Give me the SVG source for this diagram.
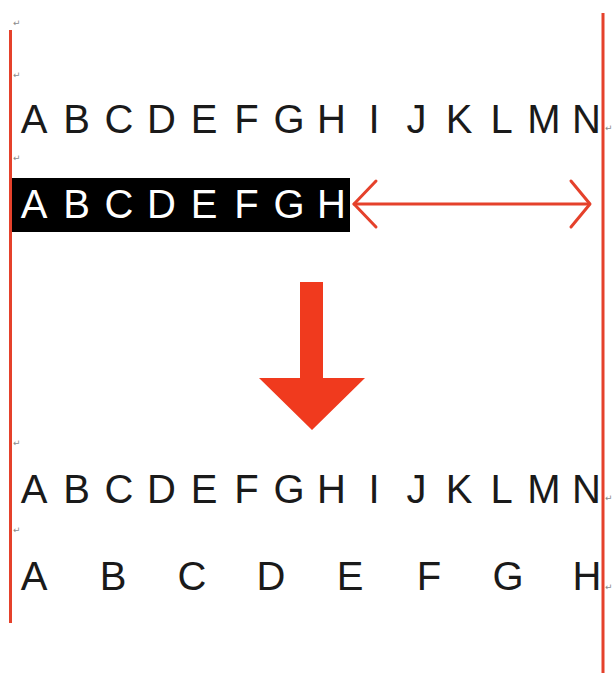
<svg xmlns="http://www.w3.org/2000/svg" width="616" height="673" viewBox="0 0 616 673">
<style>
.t{font-family:"Liberation Sans",Arial,sans-serif;font-size:40px;fill:#1a1a1a;text-anchor:middle}
.w{fill:#ffffff}
.pm{font-family:"DejaVu Sans",sans-serif;font-size:9px;fill:#8a8a8a}
.rl{stroke:#e5412b;stroke-width:3;fill:none}
</style>
<rect width="616" height="673" fill="#ffffff"/>
<g id="margins">
<line class="rl" x1="10.5" y1="30" x2="10.5" y2="623"/>
<line class="rl" x1="603" y1="13" x2="603" y2="673"/>
</g>
<g id="marks">
<text class="pm" x="13" y="26">↵</text>
<text class="pm" x="13" y="78">↵</text>
<text class="pm" x="13" y="161">↵</text>
<text class="pm" x="13" y="446">↵</text>
<text class="pm" x="13" y="533">↵</text>
<text class="pm" x="605" y="131">↵</text>
<text class="pm" x="605" y="501">↵</text>
<text class="pm" x="605" y="590">↵</text>
</g>
<g id="row1">
<text class="t" x="34 76.5 119 161.5 204 246.5 289 331.5 374 416.5 459 501.5 544 586.5" y="133">ABCDEFGHIJKLMN</text>
</g>
<g id="row2">
<rect x="12" y="178" width="338" height="54" fill="#000000"/>
<text class="t w" x="34 76.5 119 161.5 204 246.5 289 331.5" y="218">ABCDEFGH</text>
</g>
<g id="connectors">
<g id="double-arrow" class="rl" stroke-linecap="round" stroke-linejoin="round">
<line x1="354" y1="204" x2="589" y2="204"/>
<polyline points="376,181 354,204 376,227"/>
<polyline points="571,181 590,204 571,227"/>
</g>
<polygon id="down-arrow" points="300,282 323,282 323,378 365,378 312,430 259,378 300,378" fill="#f03a1e"/>
</g>
<g id="row3">
<text class="t" x="34 76.5 119 161.5 204 246.5 289 331.5 374 416.5 459 501.5 544 586.5" y="503">ABCDEFGHIJKLMN</text>
</g>
<g id="row4">
<text class="t" x="34 113 192 271 350 429 508 587" y="590">ABCDEFGH</text>
</g>
</svg>
